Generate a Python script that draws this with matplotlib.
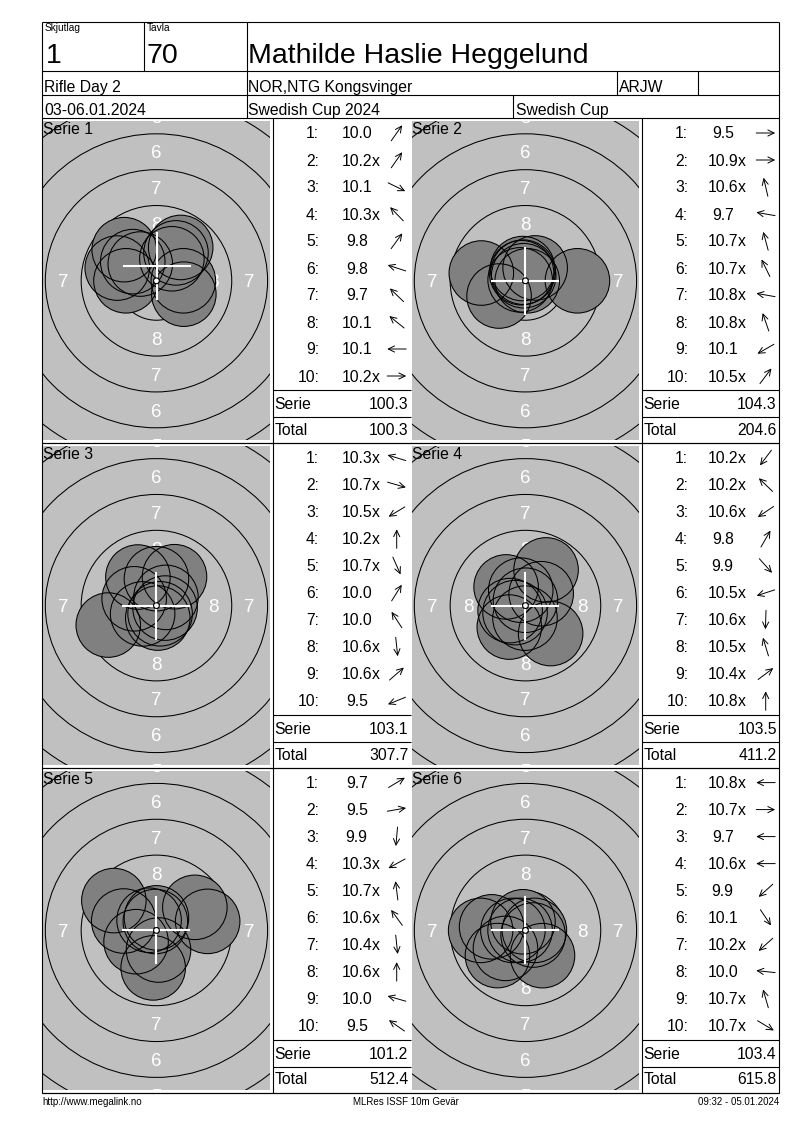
import numpy as np
import matplotlib.pyplot as plt
from matplotlib.patches import Circle

plt.rcParams['font.family'] = ['Liberation Sans', 'DejaVu Sans']

# header data
skjutlag = '1'
tavla = '70'
shooter = 'Mathilde Haslie Heggelund'
event = 'Rifle Day 2'
club = 'NOR,NTG Kongsvinger'
klass = 'ARJW'
dates = '03-06.01.2024'
competition = 'Swedish Cup 2024'
cup = 'Swedish Cup'
footer = ['http://www.megalink.no', 'MLRes ISSF 10m Gevär', '09:32 - 05.01.2024']

# shot values per serie (x = inner ten)
s1 = ['10.0', '10.2x', '10.1', '10.3x', '9.8', '9.8', '9.7', '10.1', '10.1', '10.2x']
s2 = ['9.5', '10.9x', '10.6x', '9.7', '10.7x', '10.7x', '10.8x', '10.8x', '10.1', '10.5x']
s3 = ['10.3x', '10.7x', '10.5x', '10.2x', '10.7x', '10.0', '10.0', '10.6x', '10.6x', '9.5']
s4 = ['10.2x', '10.2x', '10.6x', '9.8', '9.9', '10.5x', '10.6x', '10.5x', '10.4x', '10.8x']
s5 = ['9.7', '9.5', '9.9', '10.3x', '10.7x', '10.6x', '10.4x', '10.6x', '10.0', '9.5']
s6 = ['10.8x', '10.7x', '9.7', '10.6x', '9.9', '10.1', '10.2x', '10.0', '10.7x', '10.7x']

# shot direction (degrees, as shown by the arrows)
a1 = [55, 55, -26, 134, 54, 162, 136, 141, 180, 0]
a2 = [0, 0, 103, 170, 105, 116, 170, 109, 210, 53]
a3 = [163, -16, 211, 90, -66, 58, 123, -84, 41, 202]
a4 = [233, 136, 214, 60, -48, 198, -92, 107, 37, 90]
a5 = [31, 10, -95, 209, 97, 126, -84, 90, 164, 145]
a6 = [180, 0, 180, 180, 222, -56, 222, 174, 106, -31]

# white cross position per serie (mm from centre)
cross_x = [0.05, 0, 0, 0, 0, 0]
cross_y = [1.0, 0, 0, 0, 0, 0]

serie_sum = ['100.3', '104.3', '103.1', '103.5', '101.2', '103.4']
total_sum = ['100.3', '204.6', '307.7', '411.2', '512.4', '615.8']

shots = [s1, s2, s3, s4, s5, s6]
angles = [a1, a2, a3, a4, a5, a6]

W, H = 800, 1130
fig = plt.figure(figsize=(W / 100, H / 100), dpi=100)
fig.patch.set_facecolor('white')
ax = fig.add_axes([0, 0, 1, 1], zorder=5)
ax.set_xlim(0, W)
ax.set_ylim(H, 0)
ax.axis('off')
ax.patch.set_alpha(0)

lw = 0.8
L, R, T, B = 42, 779.3, 21.7, 1092.7
BT0, BH = 118.3, 324.8
tgt_left = [42, 411]
tab_left = [272.7, 641.7]
tab_right = [411, 779.3]
num_dx = [84, 81]

def hline(y, x0, x1):
    ax.plot([x0, x1], [y, y], color='black', lw=lw, solid_capstyle='butt')

def vline(x, y0, y1):
    ax.plot([x, x], [y0, y1], color='black', lw=lw, solid_capstyle='butt')

# page frame and header grid
for y in [T, 70.7, 95, 118.3]:
    hline(y, L, R)
vline(L, T, B)
vline(R, T, B)
vline(144.3, T, 70.7)
vline(246.7, T, 118.3)
vline(616.7, 70.7, 95)
vline(698.3, 70.7, 95)
vline(513.3, 95, 118.3)

ax.text(44.5, 30.7, 'Skjutlag', fontsize=7.3)
ax.text(146.5, 30.7, 'Tavla', fontsize=7.3)
ax.text(45.5, 62.7, skjutlag, fontsize=20.5)
ax.text(146.7, 62.7, tavla, fontsize=20.5)
ax.text(248.5, 62.7, shooter, fontsize=20.5)
ax.text(44.5, 91.7, event, fontsize=11.3)
ax.text(248.5, 91.7, club, fontsize=11.3)
ax.text(618.5, 91.7, klass, fontsize=11.3)
ax.text(44.0, 115, dates, fontsize=11.3)
ax.text(248.5, 115, competition, fontsize=11.3)
ax.text(515.5, 115, cup, fontsize=11.3)

# target geometry (mm)
scale = 14.34           # px per mm
ring_r = {n: 0.25 + (10 - n) * 2.5 for n in range(1, 10)}
shot_r = 2.25
cap_mm = 13.3 / scale

for k in range(6):
    row, col = divmod(k, 2)
    bt = BT0 + row * BH
    bb = bt + BH
    hline(bb, L, R)
    tl, tr = tab_left[col], tab_right[col]
    vline(tl, bt, bb)

    # target panel
    gx0 = tgt_left[col] + 1.4
    gx1 = tl - 3.2
    gy0 = bt + 3
    gy1 = bb - 2.8
    tax = fig.add_axes([gx0 / W, 1 - gy1 / H, (gx1 - gx0) / W, (gy1 - gy0) / H])
    tax.set_facecolor('#c0c0c0')
    hw = (gx1 - gx0) / 2 / scale
    hh = (gy1 - gy0) / 2 / scale
    tax.set_xlim(-hw, hw)
    tax.set_ylim(-hh, hh)
    tax.set_xticks([])
    tax.set_yticks([])
    for sp in tax.spines.values():
        sp.set_visible(False)

    for n in range(1, 10):
        tax.add_patch(Circle((0, 0), ring_r[n], fill=False, ec='black', lw=0.75, zorder=1))
    for n in range(4, 9):
        rl = (10 - n) * 2.5 - 1.0
        for (px, py) in [(0, rl), (0, -rl), (rl, 0), (-rl, 0)]:
            tax.text(px, py - cap_mm / 2, str(n), color='white', fontsize=13.5,
                     ha='center', va='baseline', zorder=2, clip_on=True)

    vals = np.array([float(v.rstrip('x')) for v in shots[k]])
    ang = np.radians(angles[k])
    dist = np.clip((10.95 - vals) * 2.5, 0, None)
    xs = dist * np.cos(ang)
    ys = dist * np.sin(ang)
    for x, y in zip(xs, ys):
        tax.add_patch(Circle((x, y), shot_r, fc='#808080', ec='none', zorder=3))
    for x, y in zip(xs, ys):
        tax.add_patch(Circle((x, y), shot_r, fill=False, ec='black', lw=0.75, zorder=4))
    tax.add_patch(Circle((0, 0), 0.2, fc='white', ec='black', lw=0.8, zorder=5))
    cx, cy = cross_x[k], cross_y[k]
    tax.plot([cx - 2.3, cx + 2.3], [cy, cy], color='white', lw=1.5, zorder=6)
    tax.plot([cx, cx], [cy - 2.3, cy + 2.3], color='white', lw=1.5, zorder=6)
    tax.add_patch(Circle((0, 0), 0.2, fc='white', ec='black', lw=0.8, zorder=7))

    ax.text(gx0, bt + 15.7, 'Serie %d' % (k + 1), fontsize=11.3)

    # shot table
    for i, v in enumerate(shots[k]):
        yc = bt + 14.7 + 27 * i
        ax.text(tl + 46.5, yc + 5.5, '%d:' % (i + 1), fontsize=11.3, ha='right')
        num = v.rstrip('x')
        xc = tl + num_dx[col]
        ax.text(xc, yc + 5.5, num, fontsize=11.3, ha='center')
        if v.endswith('x'):
            ax.text(xc + 15, yc + 5.5, 'x', fontsize=11.3)
        t = np.radians(angles[k][i])
        dx, dy = 9.5 * np.cos(t), -9.5 * np.sin(t)
        ax0 = tl + 124
        ax.annotate('', xy=(ax0 + dx, yc + dy), xytext=(ax0 - dx, yc - dy),
                    arrowprops=dict(arrowstyle='->,head_length=0.45,head_width=0.22',
                                    lw=0.7, color='black', shrinkA=0, shrinkB=0))

    hline(bt + 272, tl, tr)
    hline(bt + 298.7, tl, tr)
    ax.text(tl + 2, bt + 290.7, 'Serie', fontsize=11.3)
    ax.text(tr - 2.5, bt + 290.7, serie_sum[k], fontsize=11.3, ha='right')
    ax.text(tl + 2, bt + 316.4, 'Total', fontsize=11.3)
    ax.text(tr - 2.5, bt + 316.4, total_sum[k], fontsize=11.3, ha='right')

# footer
ffam = ['Liberation Sans Narrow', 'Liberation Sans', 'DejaVu Sans']
ax.text(42, 1105, footer[0], fontsize=7, family=ffam)
ax.text(406, 1105, footer[1], fontsize=7, family=ffam, ha='center')
ax.text(779, 1105, footer[2], fontsize=7, family=ffam, ha='right')

fig.savefig('out.png', dpi=100)
